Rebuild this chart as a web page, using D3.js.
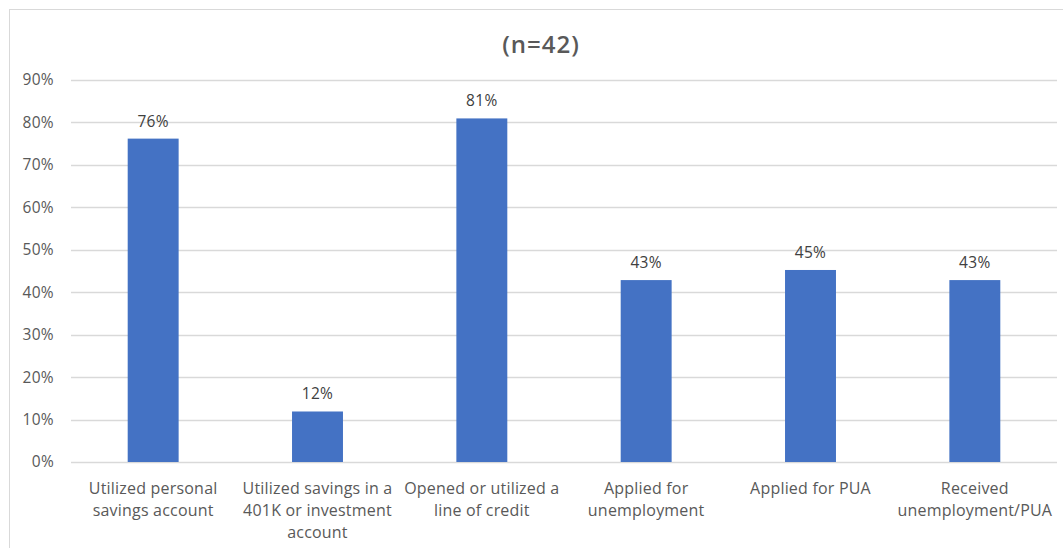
<!DOCTYPE html>
<html><head><meta charset="utf-8">
<script src="https://cdn.jsdelivr.net/npm/d3@7"></script>
<style>body{margin:0;background:#fff;} text{font-family:"Open Sans","Noto Sans",sans-serif;}</style>
</head><body>
<svg id="c" width="1063" height="548"></svg>
<script>
const categories = [
  ["Utilized personal","savings account"],
  ["Utilized savings in a","401K or investment","account"],
  ["Opened or utilized a","line of credit"],
  ["Applied for","unemployment"],
  ["Applied for PUA"],
  ["Received","unemployment/PUA"]
];
const values = [0.7619, 0.119, 0.8095, 0.4286, 0.4524, 0.4286];
const labels = ["76%","12%","81%","43%","45%","43%"];
const yTicks = [0,0.1,0.2,0.3,0.4,0.5,0.6,0.7,0.8,0.9];
const title = "(n=42)";

(function(){
const svg = d3.select("#c");
const W = 1063, H = 548;
svg.append("rect").attr("x",9.5).attr("y",9.5).attr("width",W).attr("height",H)
  .attr("fill","#fff").attr("stroke","#d9d9d9").attr("stroke-width",1);

const pL = 71, pR = 1057, pT = 80, pB = 462;
const x = d3.scaleBand().domain(d3.range(categories.length)).range([pL,pR]).paddingInner(0.69).paddingOuter(0.345);
const y = d3.scaleLinear().domain([0,0.9]).range([pB,pT]);

svg.append("g").selectAll("line").data(yTicks).join("line")
  .attr("x1",pL).attr("x2",pR)
  .attr("y1",d=>Math.round(y(d))+0.5).attr("y2",d=>Math.round(y(d))+0.5)
  .attr("stroke","#d9d9d9").attr("stroke-width",1.5);

svg.append("g").selectAll("text").data(yTicks).join("text")
  .attr("x",54).attr("y",d=>y(d)).attr("dy","0.35em").attr("text-anchor","end")
  .attr("fill","#595959").attr("font-size",15.5).attr("letter-spacing",0.3)
  .text(d=>d3.format(".0%")(d));

svg.append("g").selectAll("rect").data(values).join("rect")
  .attr("x",(d,i)=>x(i)).attr("width",x.bandwidth())
  .attr("y",d=>y(d)).attr("height",d=>pB-y(d))
  .attr("fill","#4472C4");

svg.append("g").selectAll("text").data(values).join("text")
  .attr("x",(d,i)=>x(i)+x.bandwidth()/2).attr("y",d=>y(d)-12)
  .attr("text-anchor","middle").attr("fill","#404040").attr("font-size",15.5).attr("letter-spacing",0.3)
  .text((d,i)=>labels[i]);

const cat = svg.append("g").selectAll("text").data(categories).join("text")
  .attr("text-anchor","middle").attr("fill","#595959").attr("font-size",16).attr("letter-spacing",0.2)
  .attr("x",(d,i)=>x(i)+x.bandwidth()/2).attr("y",494);
cat.selectAll("tspan").data(d=>d).join("tspan")
  .attr("x",function(){return d3.select(this.parentNode).attr("x");})
  .attr("dy",(d,j)=>j===0?0:22).text(d=>d);

svg.append("text").attr("x",541).attr("y",53).attr("text-anchor","middle")
  .attr("fill","#595959").attr("font-size",24).attr("font-weight",600).attr("letter-spacing",1).text(title);
})();
</script>
</body></html>
